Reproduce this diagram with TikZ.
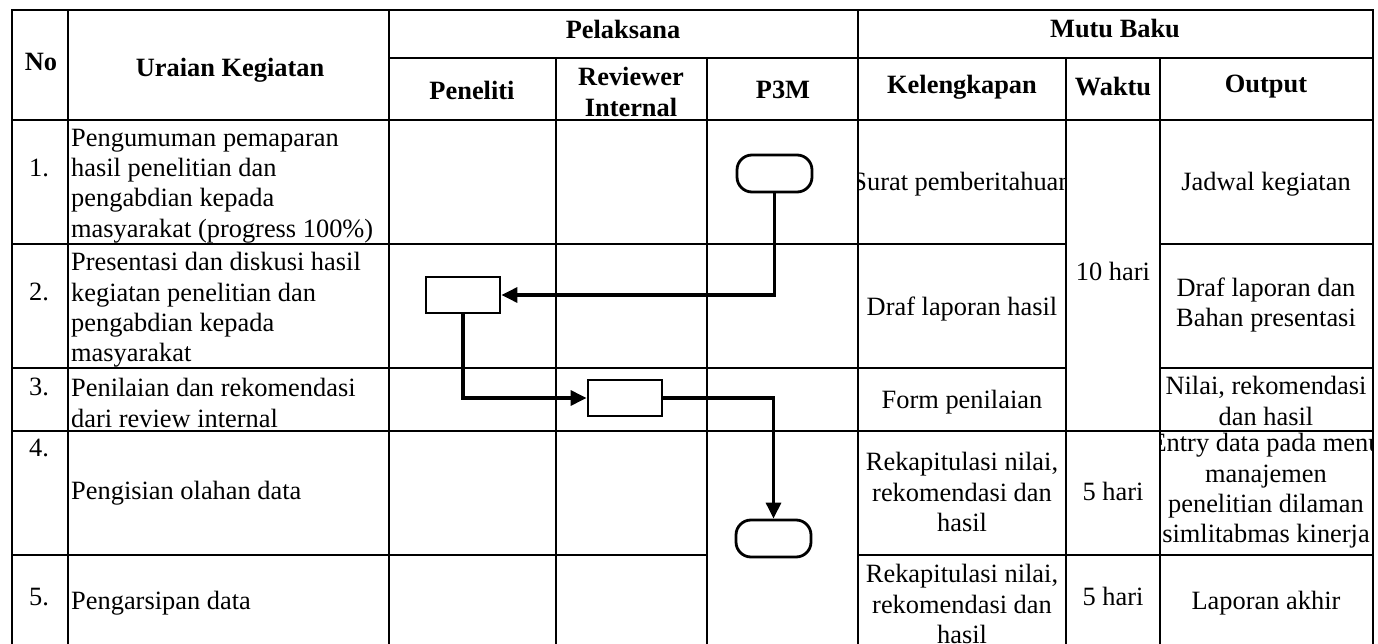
\documentclass[tikz,border=0pt]{standalone}
\usepackage{fontspec}
\setmainfont{Liberation Serif}
\usetikzlibrary{arrows.meta}
\tikzset{
    tableline/.style={line width=1.3pt},
    terminal/.style={draw, line width=2.8pt, rounded corners=15pt, minimum width=75pt, minimum height=37pt, inner sep=0pt},
    process/.style={draw, line width=2.8pt, minimum width=74pt, minimum height=36pt, inner sep=0pt},
    flow/.style={line width=3.2pt, -{Triangle[length=16pt, width=15pt]}},
    head/.style={font=\bfseries\fontsize{26.4}{30.4}\selectfont, align=center, inner sep=0pt},
    cell/.style={font=\fontsize{26.4}{30.4}\selectfont, align=center, inner sep=0pt},
    task/.style={cell, align=left, anchor=west}
}

\begin{document}
\begin{tikzpicture}[x=1pt, y=-1pt]
    \useasboundingbox (0,0) rectangle (1378,644);

    % grid of the table
    \draw[tableline] (12,644) -- (12,10) -- (1373,10) -- (1373,644);
    \draw[tableline] (389,58) -- (1373,58);
    \draw[tableline] (12,120) -- (1373,120);
    \foreach \y in {244,368}
        \draw[tableline] (12,\y) -- (1066,\y) (1160,\y) -- (1373,\y);
    \draw[tableline] (12,431) -- (1373,431);
    \draw[tableline] (12,555) -- (707,555) (858,555) -- (1373,555);
    \foreach \x in {68,389,858}
        \draw[tableline] (\x,10) -- (\x,644);
    \foreach \x in {556,707,1066,1160}
        \draw[tableline] (\x,58) -- (\x,644);

    % headers
    \node[head] (no)          at (41,62)    {No};
    \node[head] (uraian)      at (230,70)   {Uraian Kegiatan};
    \node[head] (pelaksana)   at (623,29)   {Pelaksana};
    \node[head] (mutu)        at (1115,29)  {Mutu Baku};
    \node[head] (peneliti)    at (472,90)   {Peneliti};
    \node[head] (reviewer)    at (631,92)   {Reviewer\\Internal};
    \node[head] (p3m)         at (783,90)   {P3M};
    \node[head] (kelengkapan) at (962,87)   {Kelengkapan};
    \node[head] (waktu)       at (1113,87)  {Waktu};
    \node[head] (output)      at (1266,87)  {Output};

    % numbers and activities
    \node[cell, anchor=base] (n1) at (39,177) {1.};
    \node[cell, anchor=base] (n2) at (39,301) {2.};
    \node[cell, anchor=base] (n3) at (39,395) {3.};
    \node[cell, anchor=base] (n4) at (39,456) {4.};
    \node[cell, anchor=base] (n5) at (39,605) {5.};
    \node[task] (u1) at (71,186) {Pengumuman pemaparan\\hasil penelitian dan\\pengabdian kepada\\masyarakat (progress 100\%)};
    \node[task] (u2) at (71,310) {Presentasi dan diskusi hasil\\kegiatan penelitian dan\\pengabdian kepada\\masyarakat};
    \node[task] (u3) at (71,403) {Penilaian dan rekomendasi\\dari review internal};
    \node[task, anchor=base west] (u4) at (71,499) {Pengisian olahan data};
    \node[task, anchor=base west] (u5) at (71,609) {Pengarsipan data};

    % kelengkapan
    \begin{scope}
        \clip (858,120) rectangle (1066,244);
        \node[cell, anchor=base] (k1) at (962,191) {Surat pemberitahuan};
    \end{scope}
    \node[cell, anchor=base] (k2) at (962,316) {Draf laporan hasil};
    \node[cell, anchor=base] (k3) at (962,408) {Form penilaian};
    \node[cell] (k4) at (962,492) {Rekapitulasi nilai,\\rekomendasi dan\\hasil};
    \node[cell] (k5) at (962,604) {Rekapitulasi nilai,\\rekomendasi dan\\hasil};

    % waktu
    \node[cell, anchor=base] (w1) at (1113,280) {10 hari};
    \node[cell, anchor=base] (w4) at (1113,500) {5 hari};
    \node[cell, anchor=base] (w5) at (1113,605) {5 hari};

    % output
    \node[cell, anchor=base] (o1) at (1266,191) {Jadwal kegiatan};
    \node[cell] (o2) at (1266,305) {Draf laporan dan\\Bahan presentasi};
    \node[cell] (o3) at (1266,401) {Nilai, rekomendasi\\dan hasil};
    \begin{scope}
        \clip (1160,431) rectangle (1373,555);
        \node[cell] (o4) at (1266,491) {Entry data pada menu\\manajemen\\penelitian dilaman\\simlitabmas kinerja};
    \end{scope}
    \node[cell, anchor=base] (o5) at (1266,609) {Laporan akhir};

    % flow
    \node[terminal] (start) at (774.5,173.5) {};
    \node[process]  (present) at (463,295) {};
    \node[process]  (review)  at (625,398) {};
    \node[terminal] (finish)  at (773.5,538.5) {};

    \draw[flow] (start.south) |- (present.east);
    \draw[flow] (present.south) |- (review.west);
    \draw[flow] (review.east) -| (finish.north);
\end{tikzpicture}
\end{document}
